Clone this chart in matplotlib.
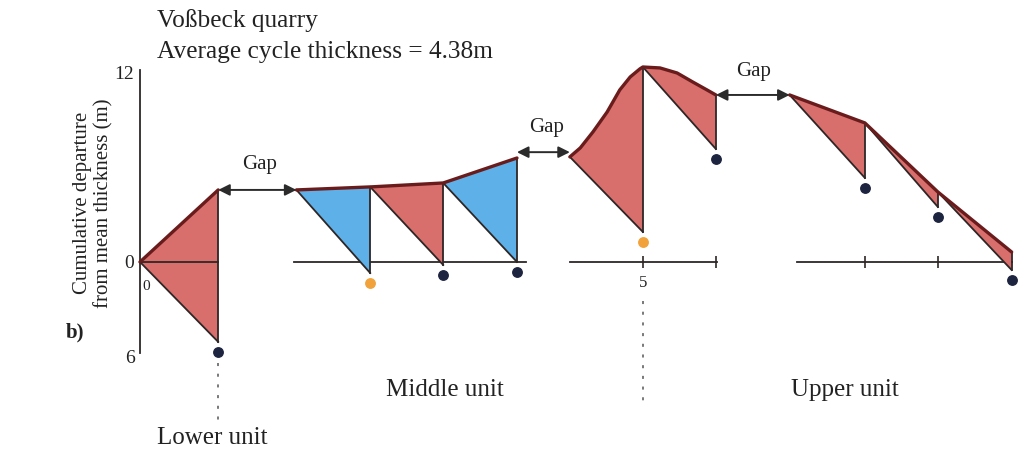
import matplotlib
matplotlib.use("Agg")
import matplotlib.pyplot as plt
from matplotlib.transforms import ScaledTranslation

plt.rcParams['font.family'] = ['Liberation Serif', 'DejaVu Serif']

# ---------------- data ----------------
# x: cycle-boundary positions (plot layout, one cycle ~ 1 unit, gaps between units)
# top: cumulative departure from mean thickness (m) at each boundary
# bottom: level reached by the mean-thickness (subsidence) line at the end of each cycle
lower_x = [0.0, 1.05]
lower_top = [0.0, 4.56]
lower_bottom = [-5.06]
lower_fill = ['red']
lower_dot = ['navy']

middle_x = [2.10, 3.09, 4.07, 5.06]
middle_top = [4.56, 4.75, 5.00, 6.58]
middle_bottom = [-0.70, -0.19, 0.0]
middle_fill = ['blue', 'red', 'blue']
middle_dot = ['orange', 'navy', 'navy']

upper1_x = [5.77, 6.75, 7.73]
upper1_top = [6.65, 12.34, 10.57]
upper1_bottom = [1.90, 7.15]
upper1_fill = ['red', 'red']
upper1_dot = ['orange', 'navy']
# smooth top curve of the first upper segment
upper1_curve_x = [5.77, 5.91, 6.08, 6.27, 6.44, 6.58, 6.71, 6.75, 6.98, 7.21, 7.42, 7.61, 7.73]
upper1_curve_y = [6.65, 7.22, 8.23, 9.49, 10.89, 11.71, 12.22, 12.34, 12.28, 11.96, 11.39, 10.89, 10.57]

upper2_x = [8.72, 9.73, 10.71, 11.70]
upper2_top = [10.57, 8.80, 4.43, 0.63]
upper2_bottom = [5.32, 3.48, -0.51]
upper2_fill = ['red', 'red', 'red']
upper2_dot = ['navy', 'navy', 'navy']

y_ticks = [12, 0, -6]
y_tick_labels = ['12', '0', '6']

# ---------------- style ----------------
FILL = {'red': '#d86f6c', 'blue': '#5db1e8'}
DOT = {'navy': '#1d2440', 'orange': '#f2a23a'}
TOPLINE = '#6a1c1c'
EDGE = '#2e2626'

fig = plt.figure(figsize=(10.27, 4.53), dpi=100)
ax = fig.add_axes([0, 0, 1, 1])
ax.set_xlim(-1.879, 11.906)
ax.set_ylim(-12.09, 16.58)

dot_tr = ax.transData + ScaledTranslation(0, -10 / 100, fig.dpi_scale_trans)


def draw_unit(xs, tops, bottoms, fills, dots, curve_x=None, curve_y=None):
    if curve_x is None:
        curve_x, curve_y = xs, tops
    for i in range(len(bottoms)):
        x0, x1 = xs[i], xs[i + 1]
        seg = [(cx, cy) for cx, cy in zip(curve_x, curve_y) if x0 - 1e-9 <= cx <= x1 + 1e-9]
        poly = seg + [(x1, bottoms[i])]
        ax.fill([p[0] for p in poly], [p[1] for p in poly],
                color=FILL[fills[i]], lw=0, zorder=2)
        ax.plot([x0, x1], [tops[i], bottoms[i]], color=EDGE, lw=1.3, zorder=3)
        ax.plot([x1, x1], [bottoms[i], tops[i + 1]], color=EDGE, lw=1.3, zorder=3)
        ax.plot([x1], [bottoms[i]], 'o', ms=6.8, color=DOT[dots[i]],
                transform=dot_tr, zorder=4)
    ax.plot(curve_x, curve_y, color=TOPLINE, lw=2.4, zorder=5,
            solid_capstyle='round', solid_joinstyle='round')


def baseline(xs, start_pad=0.0, end_pad=0.0, ticks=None, z=1):
    ax.plot([xs[0] + start_pad, xs[-1] + end_pad], [0, 0], color=EDGE, lw=1.3, zorder=z)
    if ticks:
        ax.plot(ticks, [0] * len(ticks), '|', color=EDGE, ms=8, mew=1.2, zorder=z)


baseline(lower_x, z=3)
baseline(middle_x, -0.03, 0.12)
baseline(upper1_x, 0.0, 0.02, ticks=upper1_x[1:])
baseline(upper2_x, 0.1, 0.0, ticks=upper2_x[1:3])

draw_unit(lower_x, lower_top, lower_bottom, lower_fill, lower_dot)
draw_unit(middle_x, middle_top, middle_bottom, middle_fill, middle_dot)
draw_unit(upper1_x, upper1_top, upper1_bottom, upper1_fill, upper1_dot,
          upper1_curve_x, upper1_curve_y)
draw_unit(upper2_x, upper2_top, upper2_bottom, upper2_fill, upper2_dot)

# gap arrows
for (xa, xb, yv, tx, ty) in [
    (lower_x[-1], middle_x[0], middle_top[0], 1.61, 6.14),
    (middle_x[-1], upper1_x[0], upper1_top[0] + 0.3, 5.46, 8.48),
    (upper1_x[-1], upper2_x[0], upper2_top[0], 8.23, 12.03),
]:
    ax.annotate('', xy=(xb, yv), xytext=(xa, yv),
                arrowprops=dict(arrowstyle='<|-|>', color='#2b2b2b', lw=1.4,
                                mutation_scale=17, shrinkA=0, shrinkB=0), zorder=6)
    ax.text(tx, ty, 'Gap', ha='center', va='center', fontsize=15, color='#222')

# y axis
for s in ['top', 'right', 'bottom']:
    ax.spines[s].set_visible(False)
ax.spines['left'].set_position(('data', 0))
ax.spines['left'].set_bounds(-5.75, 12.15)
ax.spines['left'].set_linewidth(1.3)
ax.spines['left'].set_color(EDGE)
ax.set_xticks([])
ax.set_yticks(y_ticks, labels=y_tick_labels)
ax.tick_params(axis='y', length=0, pad=4, labelsize=14, labelcolor='#222')

# dotted unit dividers
ax.plot([lower_x[-1]] * 2, [-6.4, -10.0], color='#555', lw=1.1, ls=(0, (2, 5)))
ax.plot([upper1_x[1]] * 2, [-2.5, -9.1], color='#555', lw=1.1, ls=(0, (2, 5)))

# texts
ax.text(0.228, 14.87, 'Voßbeck quarry', fontsize=18.3, va='baseline', color='#222')
ax.text(0.228, 12.9, 'Average cycle thickness = 4.38m', fontsize=18.3, va='baseline', color='#222')
ax.text(-0.63, 3.73, 'Cumulative departure\nfrom mean thickness (m)', rotation=90,
        ha='center', va='center', fontsize=15, color='#222', linespacing=1.15)
ax.text(-0.87, -4.49, 'b)', fontsize=15, fontweight='bold', ha='center', va='center', color='#222')
ax.text(0.08, -1.58, '0', fontsize=11, ha='center', va='center', color='#222')
ax.text(6.75, -1.33, '5', fontsize=12, ha='center', va='center', color='#222')
ax.text(4.09, -8.10, 'Middle unit', fontsize=18, ha='center', va='center', color='#222')
ax.text(9.46, -8.10, 'Upper unit', fontsize=18, ha='center', va='center', color='#222')
ax.text(0.97, -11.14, 'Lower unit', fontsize=18, ha='center', va='center', color='#222')

fig.savefig('out.png', dpi=100)
